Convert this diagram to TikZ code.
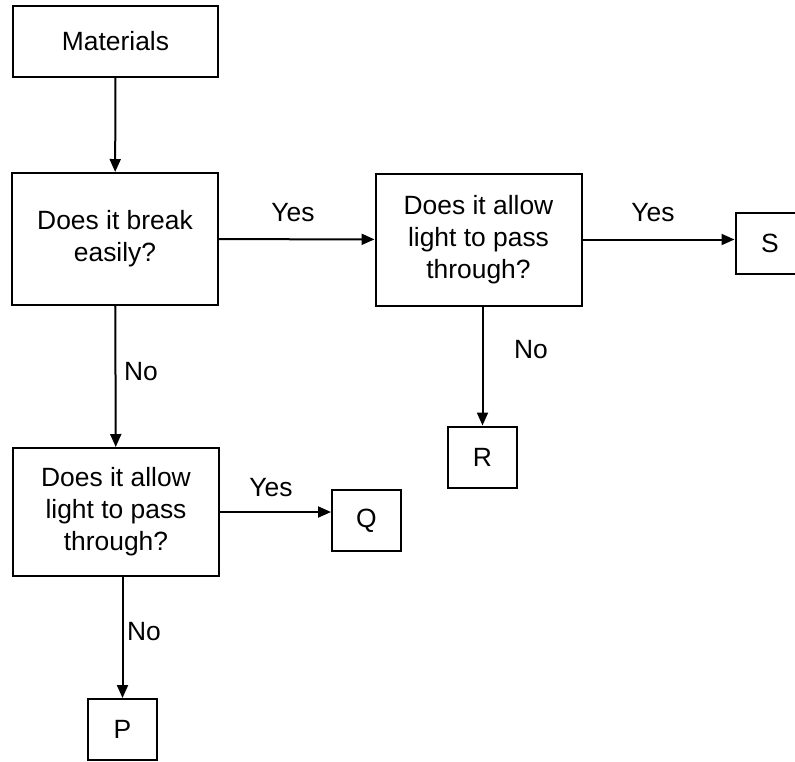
\documentclass[tikz,border=0pt]{standalone}
\usepackage{fontspec}
\setmainfont{Liberation Sans}
\usetikzlibrary{positioning,arrows.meta}

\begin{document}
\begin{tikzpicture}[x=0.5pt, y=-0.5pt,
    box/.style={draw, line width=1pt, align=center, inner sep=0pt, font=\fontsize{13.2}{16}\selectfont},
    bigbox/.style={box, minimum width=103pt, minimum height=66pt},
    smallbox/.style={box, minimum width=34.5pt, minimum height=30.5pt},
    lbl/.style={font=\fontsize{13.2}{16}\selectfont},
    arr/.style={-{Triangle[length=6.5pt,width=5.5pt]}, line width=1pt}]
        \useasboundingbox (0,0) rectangle (795,761);
        \clip (0,0) rectangle (795,761);
        % Nodes
        \node (mat) at (115.5,41.5) [box, minimum width=102.5pt, minimum height=35.5pt] {Materials};
        \node (q1) at (115,239) [bigbox] {Does it break\\easily?};
        \node (q2) at (478.5,239.5) [bigbox] {Does it allow\\light to pass\\through?};
        \node (q3) at (116,512) [bigbox, minimum height=64pt] {Does it allow\\light to pass\\through?};
        \node (s) at (770,243) [smallbox] {S};
        \node (r) at (482.5,457) [smallbox] {R};
        \node (q) at (366.5,520.5) [smallbox] {Q};
        \node (p) at (122.5,729.5) [smallbox] {P};
        % Labels
        \node (yes1) at (293,213) [lbl] {Yes};
        \node (yes2) at (653,213) [lbl] {Yes};
        \node (yes3) at (271,488) [lbl] {Yes};
        \node (no1) at (141,372) [lbl] {No};
        \node (no2) at (531,350) [lbl] {No};
        \node (no3) at (144,632) [lbl] {No};
        
        % Edges
        \draw[arr] (mat) -- (q1);
        \draw[arr] (q1) -- (q2);
        \draw[arr] (q2.east) -- (q2.east -| s.west);
        \draw[arr] (q1) -- (q3);
        \draw[arr] (r.north |- q2.south) -- (r);
        \draw[arr] (q3.east) -- (q3.east -| q.west);
        \draw[arr] (p.north |- q3.south) -- (p);
        
    \end{tikzpicture}
\end{document}
